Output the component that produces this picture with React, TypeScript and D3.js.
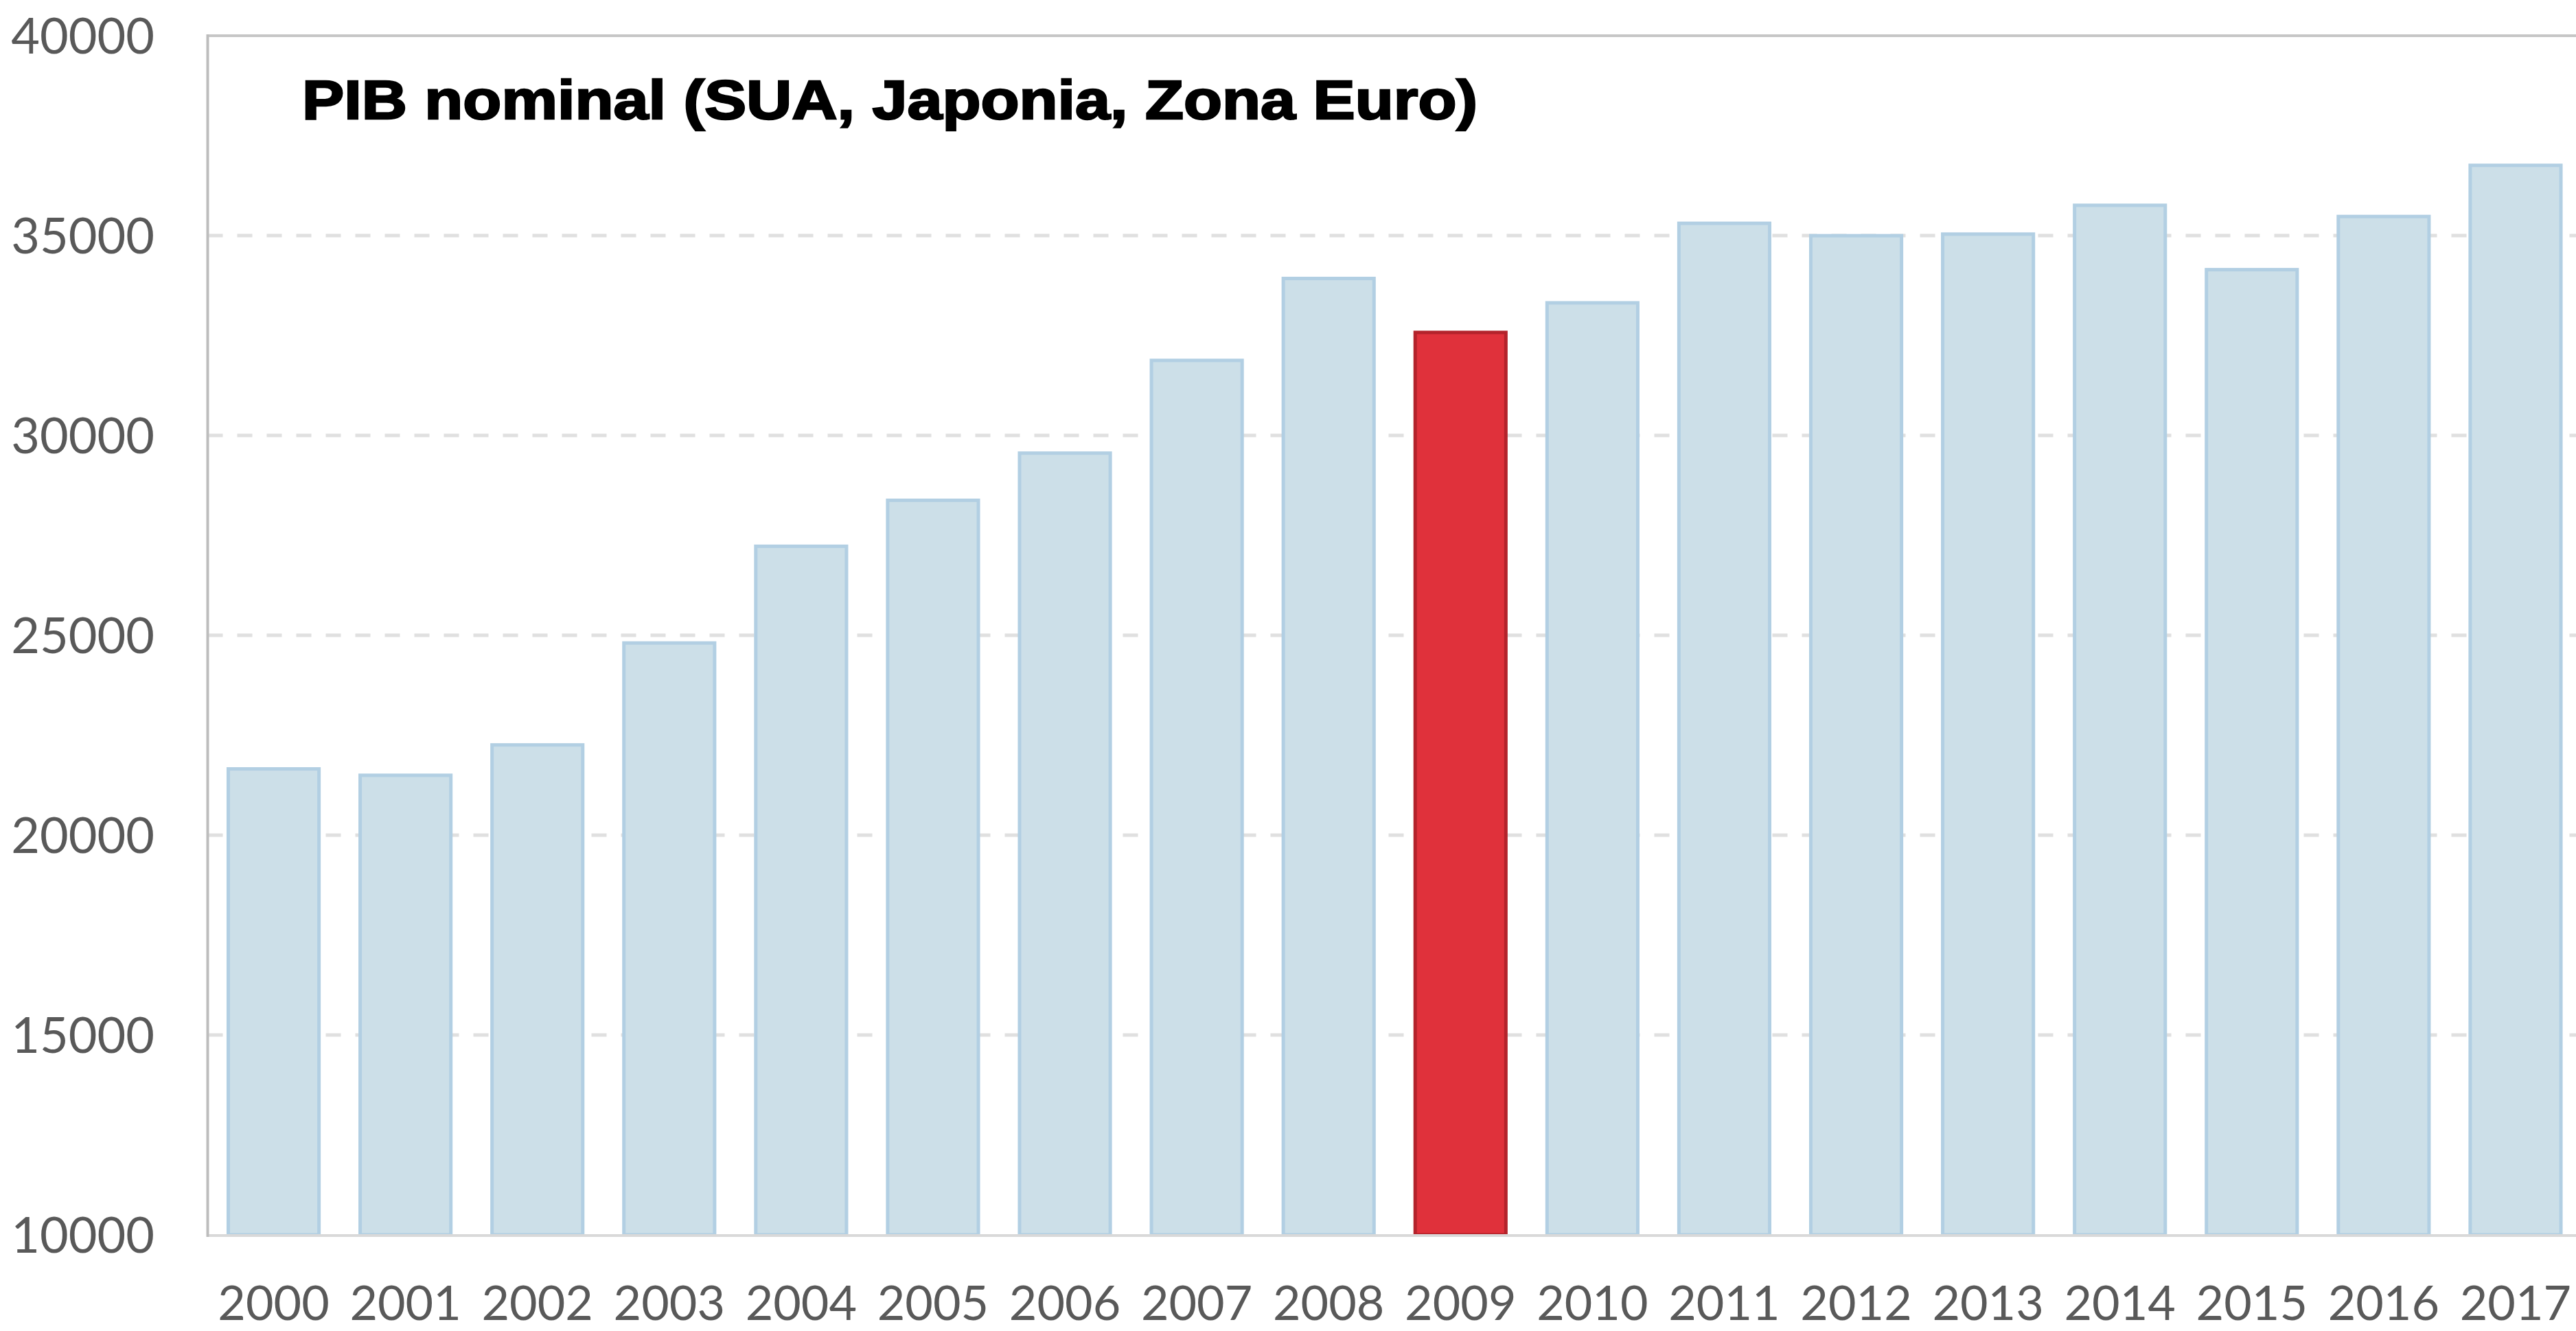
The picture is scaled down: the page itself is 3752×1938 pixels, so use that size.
import React from "react";
import * as d3 from "d3";

const years = ["2000","2001","2002","2003","2004","2005","2006","2007","2008","2009","2010","2011","2012","2013","2014","2015","2016","2017"];
const gdp = [21700,21540,22300,24850,27270,28420,29600,31920,33970,32620,33360,35350,35040,35080,35800,34190,35520,36800];
const highlightYear = "2009";
const yTicks = [10000,15000,20000,25000,30000,35000,40000];
const title = "PIB nominal (SUA, Japonia, Zona Euro)";

const W = 3752;
const H = 1938;
const left = 302.5;
const right = 3760;
const top = 52;
const bottom = 1798;

export default function App() {
  const x = d3.scaleBand<string>().domain(years).range([left, right]).paddingInner(0.286).paddingOuter(0.143);
  const y = d3.scaleLinear().domain([10000, 40000]).range([bottom, top]);
  const labelFont = "Lato, 'Open Sans', sans-serif";
  return (
    <svg width={W} height={H} style={{ position: "absolute", left: 0, top: 0, display: "block", background: "#fff" }}>
      <rect x={0} y={0} width={W} height={H} fill="#fff" />
      {/* gridlines */}
      {yTicks.filter(t => t > 10000 && t < 40000).map(t => (
        <line key={t} x1={left} x2={right} y1={y(t)} y2={y(t)} stroke="#e0e0e0" strokeWidth={5} strokeDasharray="22,21" />
      ))}
      {/* bars */}
      {years.map((yr, i) => {
        const red = yr === highlightYear;
        return (
          <rect key={yr} x={(x(yr) as number) + 2.5} y={y(gdp[i]) + 2.5} width={x.bandwidth() - 5} height={y(10000) - y(gdp[i]) - 2.5}
            fill={red ? "#e0313b" : "#ccdfe8"} stroke={red ? "#b3232b" : "#b2cfe3"} strokeWidth={5} />
        );
      })}
      {/* frame */}
      <line x1={left} x2={right} y1={top} y2={top} stroke="#c6c6c6" strokeWidth={4} />
      <line x1={left} x2={right} y1={bottom + 1} y2={bottom + 1} stroke="#d9d9d9" strokeWidth={4} />
      <line x1={left} x2={left} y1={top - 2} y2={bottom + 3} stroke="#bdbdbd" strokeWidth={4} />
      {/* y labels */}
      {yTicks.map(t => (
        <text key={t} x={225} y={y(t) + 26} textAnchor="end" fontFamily={labelFont} fontSize={72} fill="#595959">{t}</text>
      ))}
      {/* x labels */}
      {years.map(yr => (
        <text key={yr} x={(x(yr) as number) + x.bandwidth() / 2} y={1922} textAnchor="middle" fontFamily={labelFont} fontSize={70} fill="#595959">{yr}</text>
      ))}
      {/* title */}
      <text x={440} y={173} fontFamily="'Liberation Sans', Arial, sans-serif" fontWeight="bold" fontSize={80} fill="#000"
        stroke="#000" strokeWidth={2.5} textLength={1712} lengthAdjust="spacingAndGlyphs">{title}</text>
    </svg>
  );
}
